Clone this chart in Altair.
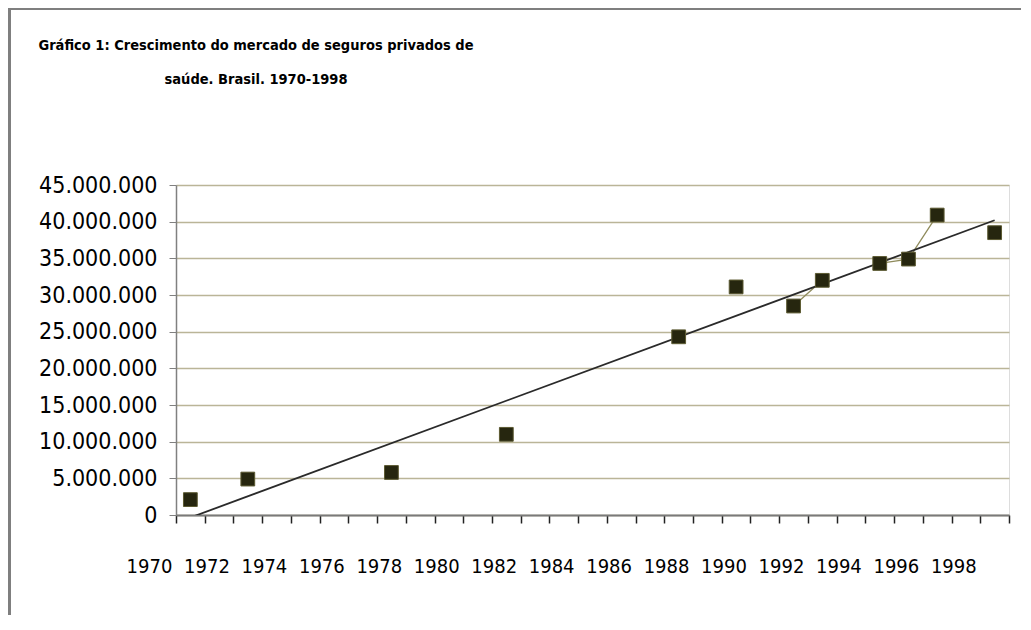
import altair as alt
import pandas as pd

# ---- data ----
years = [1970, 1972, 1977, 1981, 1987, 1989, 1991, 1992, 1994, 1995, 1996, 1998]
beneficiaries = [2100000, 4900000, 5800000, 11000000, 24300000, 31100000,
                 28500000, 32000000, 34300000, 34900000, 40900000, 38500000]
title_lines = ["Gráfico 1: Crescimento do mercado de seguros privados de",
               "saúde. Brasil. 1970-1998"]
y_tick_values = [0, 5000000, 10000000, 15000000, 20000000, 25000000,
                 30000000, 35000000, 40000000, 45000000]
x_tick_bounds = [y - 0.5 for y in range(1970, 2000)]

df = pd.DataFrame({"year": years, "value": beneficiaries})
# consecutive years are joined by a line (as in the original spreadsheet chart)
df["seg"] = (df["year"].diff() != 1).cumsum()

FONT = "Liberation Sans Narrow, DejaVu Sans Condensed, Liberation Sans, sans-serif"

x_axis = alt.Axis(
    values=x_tick_bounds,
    labelExpr="((datum.value - 1969.5) % 2 == 0) ? toString(datum.value + 0.5) : ''",
    grid=False, tickSize=8, tickWidth=1.5, tickColor="#222222",
    domainColor="#7a7a7a", domainWidth=2,
    labelFont=FONT, labelFontSize=20, labelColor="#000000",
    labelPadding=33, labelOffset=-27, labelOverlap=False, labelBound=False,
    labelFlush=False, title=None,
)
y_axis = alt.Axis(
    values=y_tick_values,
    labelExpr="join(split(format(datum.value, ','), ','), '.')",
    grid=True, gridColor="#bab598", gridWidth=1.6,
    tickSize=7, tickColor="#808080", domainColor="#808080", domainWidth=1.5,
    labelFont=FONT, labelFontSize=23, labelColor="#000000",
    labelPadding=12, title=None,
)

X = alt.X("year:Q", scale=alt.Scale(domain=[1969.5, 1998.5], nice=False, zero=False), axis=x_axis)
Y = alt.Y("value:Q", scale=alt.Scale(domain=[0, 45000000], nice=False), axis=y_axis)

base = alt.Chart(df)

connect = base.mark_line(color="#8f8b5c", strokeWidth=1.3).encode(x=X, y=Y, detail="seg:N")

trend = base.transform_regression(
    "year", "value", extent=[1970, 1998]
).mark_line(color="#2a2a2a", strokeWidth=1.8, clip=True).encode(x=X, y=Y)

points = base.mark_square(size=190, color="#26260f", stroke="#5c5a32",
                          strokeWidth=1, opacity=1).encode(x=X, y=Y)

frame_df = pd.DataFrame({"k": [0]})
frame_left = alt.Chart(frame_df).mark_rule(color="#7f7f7f", strokeWidth=3).encode(
    x=alt.value(-166.5), y=alt.value(-176.5), y2=alt.value(460))
frame_top = alt.Chart(frame_df).mark_rule(color="#7f7f7f", strokeWidth=3).encode(
    x=alt.value(-168), x2=alt.value(860), y=alt.value(-176.5))

chart = alt.layer(connect, trend, points, frame_left, frame_top).properties(
    width=833, height=330,
    title=alt.TitleParams(
        text=title_lines, anchor="start", frame="group", align="center", dx=80,
        offset=-80, font=FONT, fontSize=14.5, fontWeight="bold", lineHeight=34,
        color="#000000",
    ),
    autosize=alt.AutoSizeParams(type="none"),
    padding={"left": 168, "top": 177, "right": 12, "bottom": 100},
).configure_view(stroke="#a6a27a", strokeWidth=1.5).configure(background="white")

chart.save("out.html", embed_options={"renderer": "svg", "actions": False})
